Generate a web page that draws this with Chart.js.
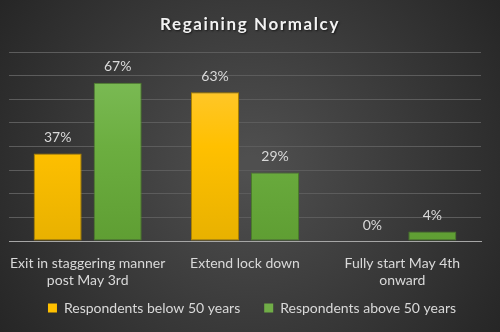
<!DOCTYPE html>
<html>
<head>
<meta charset="utf-8">
<script src="https://cdn.jsdelivr.net/npm/chart.js@4"></script>
<style>
html,body{margin:0;padding:0;background:#3a3a3a;}
#wrap{width:500px;height:332px;position:relative;}
</style>
</head>
<body>
<div id="wrap"><canvas id="c" width="500" height="332"></canvas></div>
<script>
const chartTitle = "Regaining Normalcy";
const categories = [["Exit in staggering manner","post May 3rd"], "Extend lock down", ["Fully start May 4th","onward"]];
const seriesNames = ["Respondents below 50 years", "Respondents above 50 years"];
const below50 = [37, 63, 0];
const above50 = [67, 29, 4];
const yTicks = [0, 10, 20, 30, 40, 50, 60, 70, 80];

const FONT = "Lato, 'Open Sans', sans-serif";

function barGrad(ctx, stops) {
  const chart = ctx.chart;
  const ca = chart.chartArea;
  if (!ca) return stops[1];
  const g = chart.ctx.createLinearGradient(0, ca.top, 0, ca.bottom);
  g.addColorStop(0, stops[0]);
  g.addColorStop(0.5, stops[1]);
  g.addColorStop(1, stops[2]);
  return g;
}

const bgPlugin = {
  id: 'bg',
  beforeDraw(chart) {
    const c = chart.ctx, w = chart.width, h = chart.height;
    c.save();
    const g = c.createRadialGradient(w/2, h/2, 10, w/2, h/2, 300);
    g.addColorStop(0, '#4f4f4f');
    g.addColorStop(1, '#262626');
    c.fillStyle = g;
    c.fillRect(0, 0, w, h);
    c.restore();
  }
};

const legendShift = {
  id: 'legendShift',
  afterLayout(chart) {
    const lg = chart.legend;
    if (lg) { lg.left += 7; lg.right += 7; lg.top -= 14; lg.bottom -= 14; }
  }
};

const titlePlugin = {
  id: 'ttl',
  afterDraw(chart) {
    const c = chart.ctx;
    c.save();
    c.font = "bold 17px " + FONT;
    try { c.letterSpacing = '1.6px'; } catch(e) {}
    c.fillStyle = '#f2f2f2';
    c.textAlign = 'center';
    c.textBaseline = 'middle';
    c.shadowColor = 'rgba(0,0,0,0.6)';
    c.shadowBlur = 2;
    c.shadowOffsetX = 1;
    c.shadowOffsetY = 1;
    c.fillText(chartTitle, chart.width/2, 25);
    c.restore();
  }
};

const labelPlugin = {
  id: 'vals',
  afterDatasetsDraw(chart) {
    const c = chart.ctx;
    c.save();
    c.font = "14px " + FONT;
    c.fillStyle = '#d9d9d9';
    c.textAlign = 'center';
    c.textBaseline = 'middle';
    chart.data.datasets.forEach((ds, i) => {
      chart.getDatasetMeta(i).data.forEach((el, j) => {
        c.fillText(ds.data[j] + '%', el.x, el.y - 16);
      });
    });
    c.restore();
  }
};

new Chart(document.getElementById('c'), {
  type: 'bar',
  data: {
    labels: categories,
    datasets: [
      {
        label: seriesNames[0],
        data: below50,
        backgroundColor: ctx => barGrad(ctx, ['#ffcb45', '#ffc000', '#e8b100']),
        borderColor: '#a88000',
        borderWidth: 1,
        borderSkipped: false,
        categoryPercentage: 0.763,
        barPercentage: 0.8
      },
      {
        label: seriesNames[1],
        data: above50,
        backgroundColor: ctx => barGrad(ctx, ['#80bf5c', '#6cae40', '#5f9e33']),
        borderColor: '#4a7a2a',
        borderWidth: 1,
        borderSkipped: false,
        categoryPercentage: 0.763,
        barPercentage: 0.8
      }
    ]
  },
  options: {
    responsive: false,
    animation: false,
    devicePixelRatio: 1,
    layout: { padding: { left: 9, right: 19, top: 52, bottom: 0 } },
    plugins: {
      title: { display: false },
      tooltip: { enabled: false },
      legend: {
        position: 'bottom',
        maxHeight: 41,
        labels: {
          color: '#d9d9d9',
          font: { family: FONT, size: 14 },
          boxWidth: 9,
          boxHeight: 9,
          padding: 24,
          generateLabels(chart) {
            const fills = ['#ffc000', '#70ad47'];
            return chart.data.datasets.map((ds, i) => ({
              text: ds.label,
              fillStyle: fills[i],
              strokeStyle: fills[i],
              lineWidth: 0,
              fontColor: '#d9d9d9',
              datasetIndex: i,
              hidden: false
            }));
          }
        }
      }
    },
    scales: {
      x: {
        grid: { display: false, drawTicks: false },
        border: { display: true, color: '#a6a6a6', width: 1 },
        afterFit(scale) { scale.height = 50; scale.paddingLeft = 0; scale.paddingRight = 0; },
        ticks: {
          color: '#d9d9d9',
          font: { family: FONT, size: 14, lineHeight: 1.21 },
          padding: 14,
          maxRotation: 0,
          autoSkip: false
        }
      },
      y: {
        min: yTicks[0],
        max: yTicks[yTicks.length - 1],
        afterBuildTicks(scale) { scale.ticks = yTicks.map(v => ({ value: v })); },
        grid: { color: '#5c5c5c', lineWidth: 1, drawTicks: false },
        border: { display: false },
        ticks: { display: false }
      }
    }
  },
  plugins: [bgPlugin, legendShift, labelPlugin, titlePlugin]
});
</script>
</body>
</html>
